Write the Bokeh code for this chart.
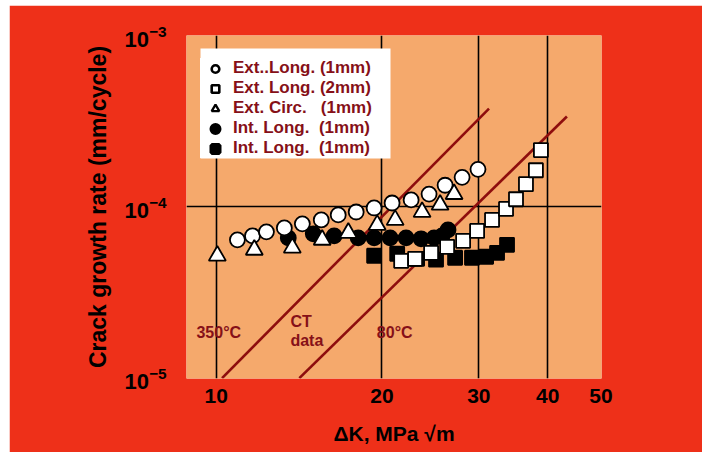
from bokeh.plotting import figure
from bokeh.models import (Range1d, FixedTicker, LogTickFormatter, NumeralTickFormatter,
                          Legend, LegendItem, Spacer, BoxAnnotation)
from bokeh.layouts import column, row
from bokeh.embed import file_html
from bokeh.resources import INLINE
from bokeh.core.properties import value

# Stress intensity range (MPa sqrt(m)) and crack growth rate (mm/cycle)
ext_long_1mm_k = [10.93, 11.64, 12.34, 13.30, 14.34, 15.52, 16.66, 17.96, 19.36,
                  20.87, 22.60, 24.36, 26.05, 27.97, 29.89]
ext_long_1mm_rate = [6.43e-5, 6.78e-5, 7.16e-5, 7.55e-5, 7.97e-5, 8.40e-5, 8.99e-5, 9.35e-5,
                     9.87e-5, 1.055e-4, 1.10e-4, 1.19e-4, 1.34e-4, 1.49e-4, 1.66e-4]

ext_long_2mm_k = [21.68, 22.98, 24.57, 26.27, 28.09, 29.78, 31.70, 33.61, 35.04, 36.53, 38.08, 38.89]
ext_long_2mm_rate = [4.85e-5, 4.98e-5, 5.40e-5, 5.85e-5, 6.34e-5, 7.25e-5, 8.40e-5, 9.74e-5,
                     1.11e-4, 1.36e-4, 1.64e-4, 2.15e-4]

ext_circ_k = [10.05, 11.73, 13.75, 15.58, 17.38, 19.61, 21.14, 23.66, 25.51, 27.05]
ext_circ_rate = [5.19e-5, 5.62e-5, 5.78e-5, 6.43e-5, 7.06e-5, 7.86e-5, 8.40e-5, 9.35e-5,
                 1.03e-4, 1.19e-4]

int_long_a_k = [13.52, 15.01, 16.38, 18.11, 19.36, 20.70, 22.13, 23.56, 24.88, 25.72, 26.37]
int_long_a_rate = [6.60e-5, 6.97e-5, 6.78e-5, 6.60e-5, 6.60e-5, 6.60e-5, 6.60e-5, 6.52e-5,
                   6.60e-5, 6.78e-5, 7.35e-5]

int_long_b_k = [19.36, 21.32, 23.17, 25.08, 27.16, 29.15, 30.92, 32.37, 33.75]
int_long_b_rate = [5.19e-5, 5.33e-5, 4.98e-5, 4.92e-5, 5.05e-5, 5.05e-5, 5.12e-5, 5.40e-5, 6.01e-5]

# CT specimen trend lines
ct_350_k = [10.25, 31.3]
ct_350_rate = [1.0e-5, 3.76e-4]
ct_80_k = [14.16, 43.35]
ct_80_rate = [1.0e-5, 3.38e-4]

x_ticks = [10, 20, 30, 40, 50]
x_grid = [10, 20, 30, 40]
y_ticks = [1e-5, 1e-4, 1e-3]
y_grid = [1e-4]

legend_labels = ["Ext..Long. (1mm)", "Ext. Long. (2mm)", "Ext. Circ.\u00a0\u00a0\u00a0(1mm)",
                 "Int. Long.\u00a0\u00a0(1mm)", "Int. Long.\u00a0\u00a0(1mm)"]

FONT = "Liberation Sans"
RED = "#ee3019"
ORANGE = "#f5a96c"
DARK_RED = "#861018"
NAN = float("nan")

p = figure(width=693, height=447, x_axis_type="log", y_axis_type="log",
           x_range=Range1d(8.834, 50.1), y_range=Range1d(0.995e-5, 1.005e-3),
           output_backend="svg", toolbar_location=None,
           min_border_left=177, min_border_right=101, min_border_top=30, min_border_bottom=74,
           background_fill_color=ORANGE, border_fill_color=RED, outline_line_color=None)

# axes
p.xaxis.ticker = FixedTicker(ticks=x_ticks)
p.xaxis.formatter = NumeralTickFormatter(format="0")
p.yaxis.ticker = FixedTicker(ticks=y_ticks)
p.yaxis.formatter = LogTickFormatter()
for ax in (p.xaxis[0], p.yaxis[0]):
    ax.axis_line_color = None
    ax.major_tick_out = 0
    ax.major_tick_in = 0
    ax.minor_tick_out = 0
    ax.minor_tick_in = 0
    ax.major_label_text_font = FONT
    ax.major_label_text_font_style = "bold"
    ax.major_label_text_color = "black"
    ax.major_label_text_font_size = "21px"
    ax.axis_label_text_font = FONT
    ax.axis_label_text_font_style = "bold"
    ax.axis_label_text_color = "black"
p.yaxis.major_label_text_font_size = "22px"
p.xaxis.axis_label = "\u0394K, MPa \u221am"
p.xaxis.axis_label_text_font_size = "21px"
p.xaxis.major_label_standoff = 10
p.xaxis.axis_label_standoff = 16
p.yaxis.axis_label = "Crack growth rate (mm/cycle)"
p.yaxis.axis_label_text_font_size = "23px"
p.yaxis.major_label_standoff = 20
p.yaxis.axis_label_standoff = 10

# grid
p.xgrid.ticker = FixedTicker(ticks=x_grid)
p.ygrid.ticker = FixedTicker(ticks=y_grid)
for g in (p.xgrid[0], p.ygrid[0]):
    g.grid_line_color = "black"
    g.grid_line_width = 1.6

# CT data lines
p.line(ct_350_k, ct_350_rate, line_color="#8e0d0d", line_width=2.6)
p.line(ct_80_k, ct_80_rate, line_color="#8e0d0d", line_width=2.6)

text_style = dict(text_font=value(FONT), text_font_style="bold", text_color=DARK_RED,
                  text_font_size="16px", text_align="left", text_baseline="middle")
p.text(x=[9.21], y=[1.85e-5], text=["350\u00b0C"], **text_style)
p.text(x=[13.64], y=[1.88e-5], text=["CT\ndata"], text_line_height=1.1, **text_style)
p.text(x=[19.58], y=[1.85e-5], text=["80\u00b0C"], **text_style)

# measured points
LW = 1.8
p.scatter(int_long_b_k, int_long_b_rate, marker="square", size=14,
          fill_color="black", line_color="black", line_width=LW)
p.scatter(int_long_a_k, int_long_a_rate, marker="circle", size=15,
          fill_color="black", line_color="black", line_width=LW)
p.scatter(ext_long_2mm_k, ext_long_2mm_rate, marker="square", size=14,
          fill_color="white", line_color="black", line_width=LW)
p.scatter(ext_long_1mm_k, ext_long_1mm_rate, marker="circle", size=15,
          fill_color="white", line_color="black", line_width=LW)
p.scatter(ext_circ_k, ext_circ_rate, marker="triangle", size=17,
          fill_color="white", line_color="black", line_width=LW)

# white key panel (frame-relative screen units) behind the legend rows
p.add_layout(BoxAnnotation(left=14, right=204, top=330, bottom=220,
                           left_units="screen", right_units="screen",
                           top_units="screen", bottom_units="screen",
                           fill_color="white", fill_alpha=1.0, line_color=None))

# legend symbols: single off-canvas (NaN) point per key, heavier strokes for the small glyphs
key_specs = [("circle", "white", 2.6), ("square", "white", 2.6), ("triangle", "white", 2.3),
             ("circle", "black", 4.4), ("square", "black", 4.4)]
key_renderers = [p.scatter([NAN], [NAN], marker=m, fill_color=fc, line_color="black",
                           line_width=lw)
                 for m, fc, lw in key_specs]

legend = Legend(items=[LegendItem(label=lab, renderers=[r], index=0) for lab, r in
                       zip(legend_labels, key_renderers)],
                location=(14, 220), margin=0, padding=0, spacing=0,
                glyph_width=30, glyph_height=19, label_height=19, label_standoff=3,
                border_line_color=None,
                background_fill_color="white", background_fill_alpha=1.0,
                label_text_font=FONT, label_text_font_style="bold",
                label_text_font_size="17px", label_text_line_height=1.0,
                label_text_color=DARK_RED)
p.add_layout(legend)

page = column(Spacer(height=5), row(Spacer(width=9), p))
open("out.html", "w").write(file_html(page, INLINE))
